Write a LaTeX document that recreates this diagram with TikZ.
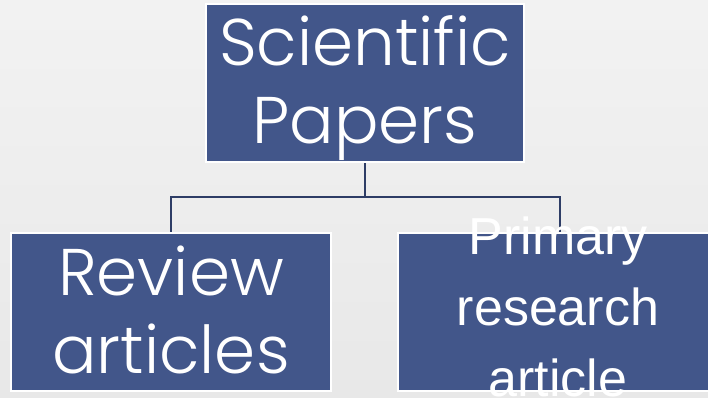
\documentclass[tikz,border=0pt]{standalone}
\usepackage{fontspec}
\usetikzlibrary{calc}
\newfontfamily\geofont{Poppins Light}
\newfontfamily\arialfont{Liberation Sans}
\definecolor{boxblue}{HTML}{42568A}
\definecolor{linknavy}{HTML}{2E3D66}
\begin{document}
\begin{tikzpicture}[x=1pt,y=-1pt,
  box/.style={draw=white, line width=2pt, fill=boxblue, inner sep=0pt, anchor=center},
  geotext/.style={text=white, align=center, inner sep=0pt, anchor=base,
    font=\geofont\fontsize{66}{78}\selectfont},
  arialtext/.style={text=white, align=center, inner sep=0pt, anchor=base,
    font=\arialfont\fontsize{52}{71}\selectfont},
  link/.style={draw=linknavy, line width=2.2pt}]
  % page and soft grey background
  \path[use as bounding box, top color=white!95!black, bottom color=white!91!black]
    (0,0) rectangle (708,397);
  % boxes
  \node[box, minimum width=318pt, minimum height=158pt] (top) at (365,83) {};
  \node[box, minimum width=320pt, minimum height=158pt] (left) at (171,312) {};
  \node[box, minimum width=324pt, minimum height=158pt] (right) at (560,312) {};
  % tree connectors
  \coordinate (fork) at ($(top.south)+(0,34)$);
  \draw[link] (top.south) -- (fork) -| (left.north);
  \draw[link] (fork) -| (right.north);
  % labels (anchored at the baseline of their last line)
  \node[geotext] (toptext) at (365,143) {Scientific\\Papers};
  \node[geotext] (lefttext) at (171,373) {Review\\articles};
  \node[arialtext] (righttext) at (558,396) {Primary\\research\\article};
\end{tikzpicture}
\end{document}
